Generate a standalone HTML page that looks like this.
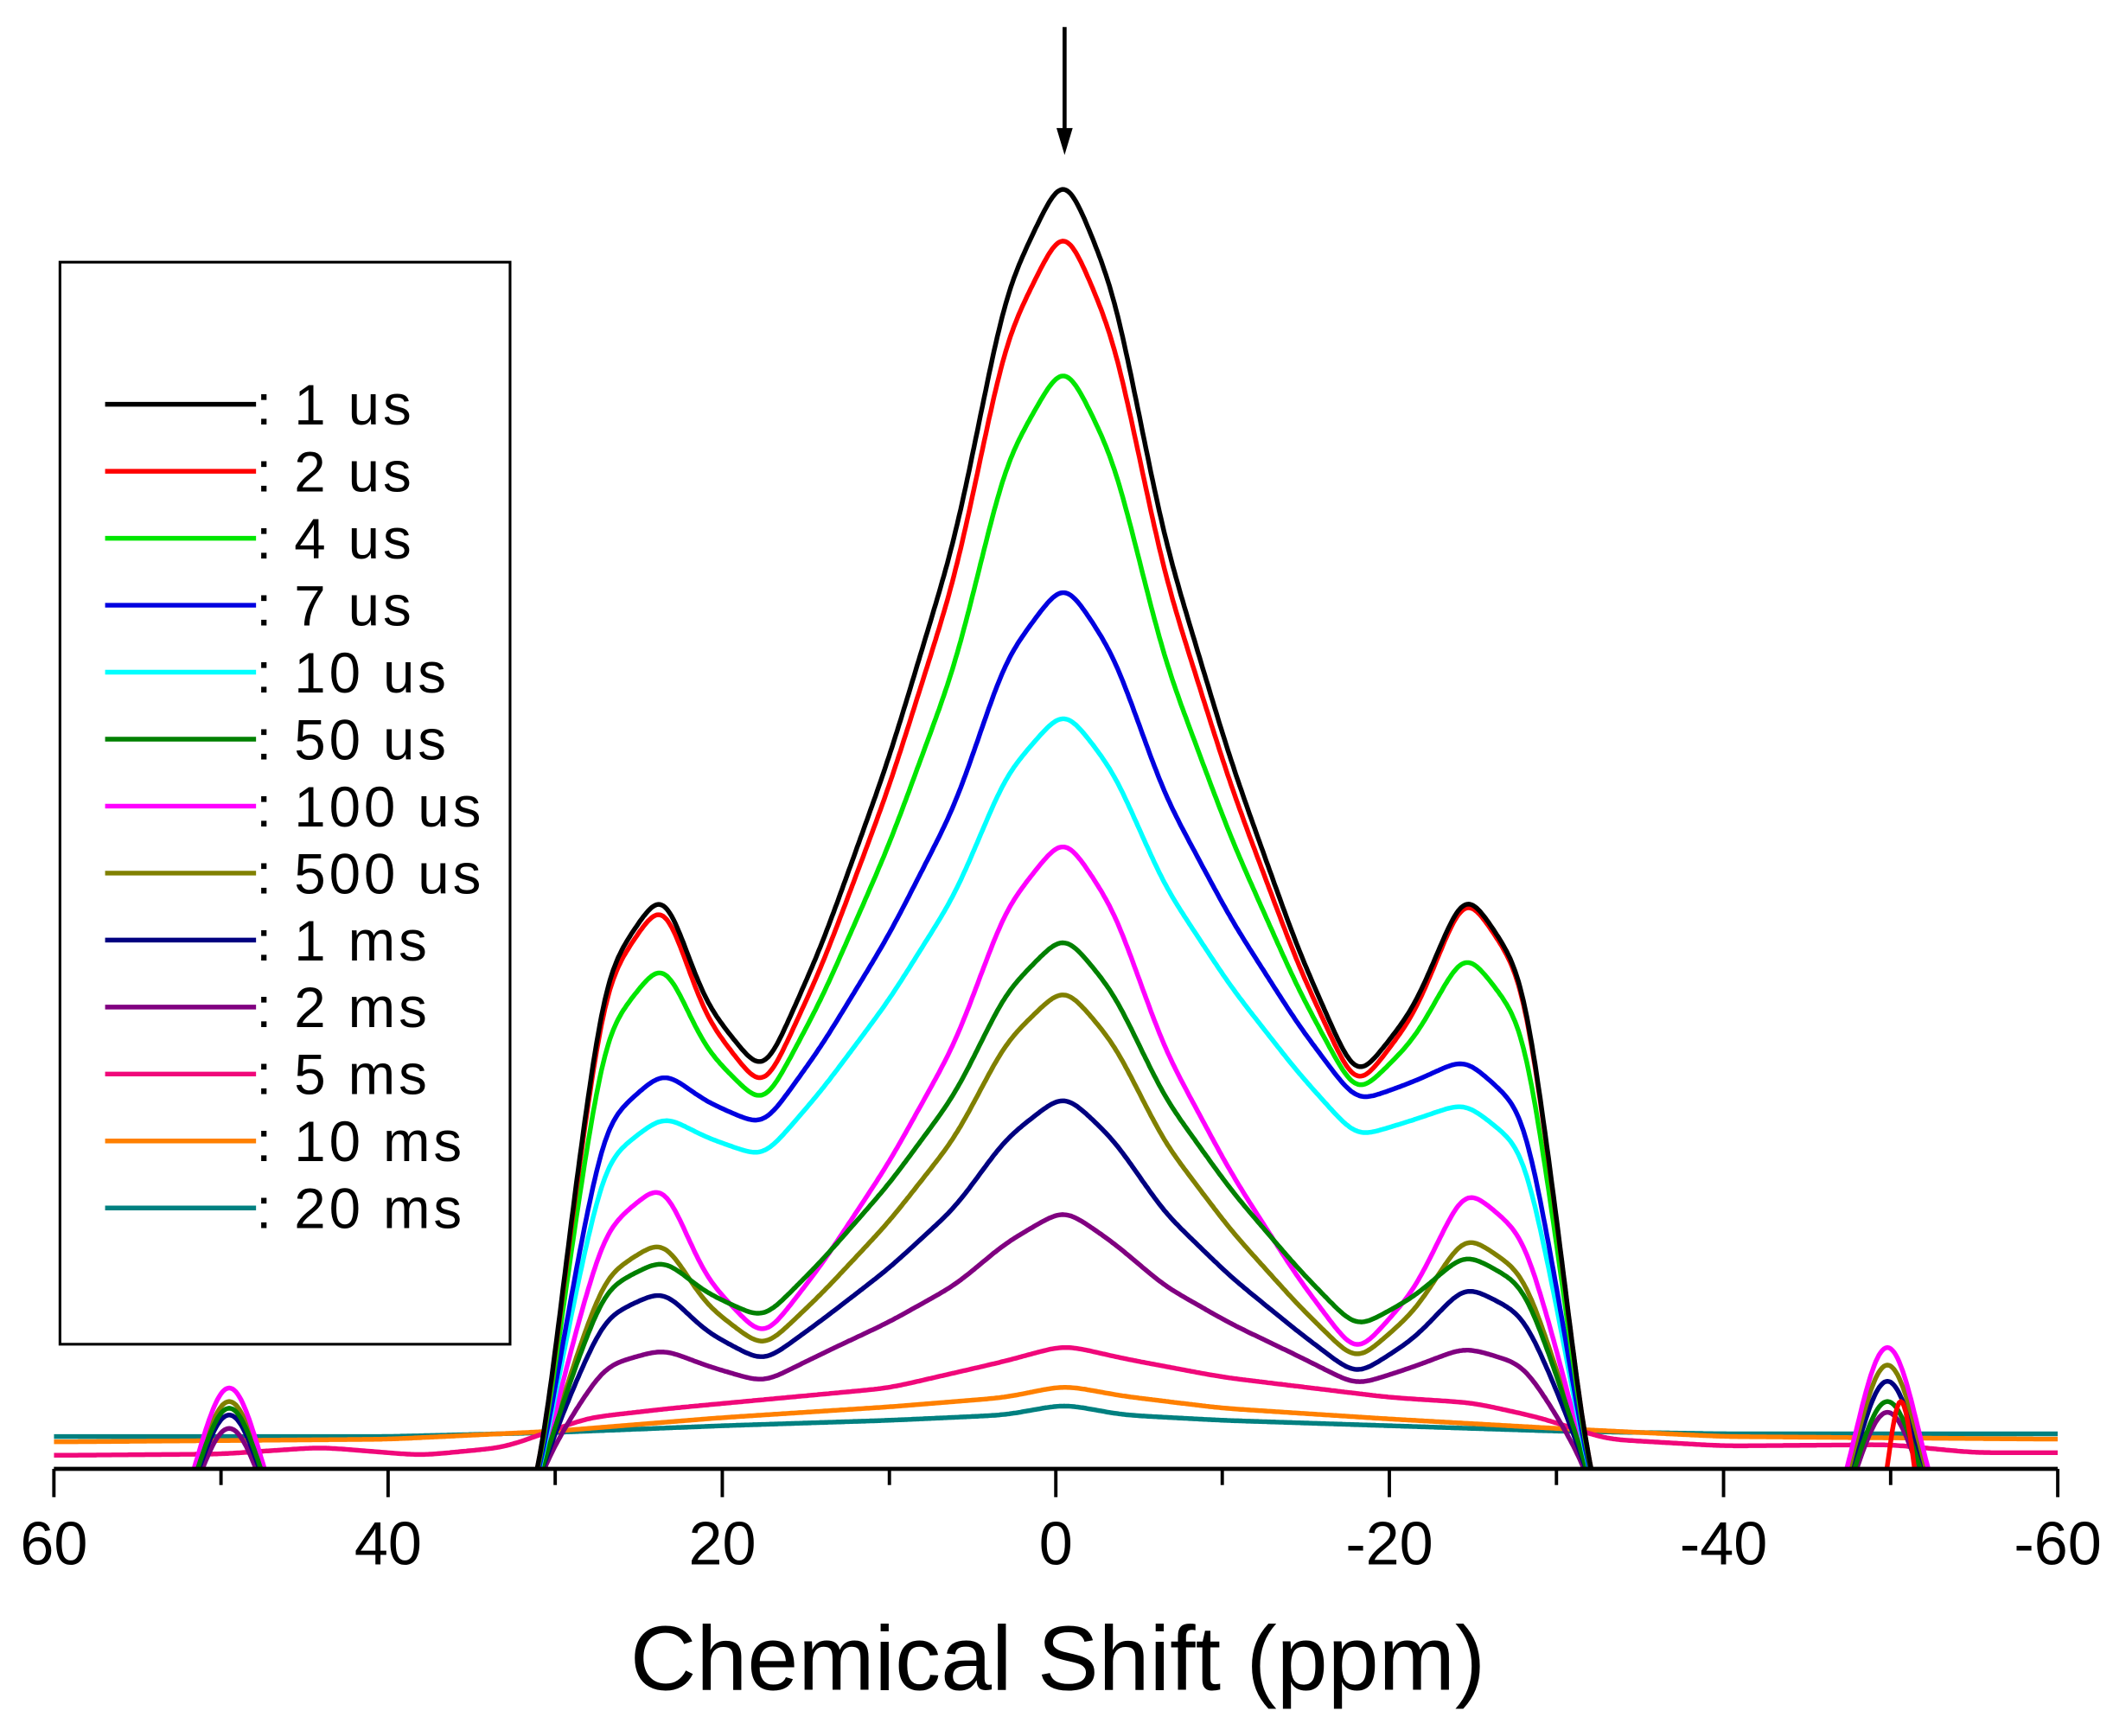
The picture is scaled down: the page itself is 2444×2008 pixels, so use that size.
<!DOCTYPE html>
<html><head><meta charset="utf-8"><style>
html,body{margin:0;padding:0;background:#fff;}
svg{display:block;}
text{font-family:"Liberation Sans",Arial,sans-serif;fill:#000;}
</style></head><body>
<svg id="s" width="2444" height="2008" viewBox="0 0 1568 1288.2" xmlns="http://www.w3.org/2000/svg">
<defs><clipPath id="c"><rect x="40" y="0" width="1487" height="1089"/></clipPath></defs>
<g id="curves" clip-path="url(#c)" fill="none" stroke-width="3.5" stroke-linejoin="round"></g>
<line x1="40" y1="1090" x2="1527" y2="1090" stroke="#000" stroke-width="3"/>
<g stroke="#000" stroke-width="2.5">
<line x1="40" y1="1090" x2="40" y2="1111"/><line x1="288" y1="1090" x2="288" y2="1111"/><line x1="536" y1="1090" x2="536" y2="1111"/><line x1="783.5" y1="1090" x2="783.5" y2="1111"/><line x1="1031" y1="1090" x2="1031" y2="1111"/><line x1="1279" y1="1090" x2="1279" y2="1111"/><line x1="1527" y1="1090" x2="1527" y2="1111"/>
<line x1="164" y1="1090" x2="164" y2="1102"/><line x1="412" y1="1090" x2="412" y2="1102"/><line x1="660" y1="1090" x2="660" y2="1102"/><line x1="907" y1="1090" x2="907" y2="1102"/><line x1="1155" y1="1090" x2="1155" y2="1102"/><line x1="1403" y1="1090" x2="1403" y2="1102"/>
</g>
<g font-size="45" text-anchor="middle">
<text x="40" y="1161">60</text><text x="288" y="1161">40</text><text x="536" y="1161">20</text><text x="783.5" y="1161">0</text><text x="1031" y="1161">-20</text><text x="1279" y="1161">-40</text><text x="1527" y="1161">-60</text>
</g>
<text x="785" y="1254" font-size="68" text-anchor="middle">Chemical Shift (ppm)</text>
<line x1="790" y1="20" x2="790" y2="100" stroke="#000" stroke-width="3"/>
<polygon points="784,95 796,95 790,115" fill="#000"/>
<rect x="44.5" y="194.5" width="334" height="803" fill="none" stroke="#000" stroke-width="2"/>
<g id="leg"></g>
</svg>
<script>
var NS="http://www.w3.org/2000/svg";
function X(p){return 783.5-p*12.392;}
var C=[
["#000000","1 us",137,672,673,793,797],
["#ff0000","2 us",176,680,676,805,804],
["#00e600","4 us",278,722,715,816,808],
["#0000e0","7 us",442,798,788,830,812],
["#00ffff","10 us",537,830,820,853,838],
["#008000","50 us",704,938,935,973,980],
["#ff00ff","100 us",631,888,893,988,1000],
["#808000","500 us",743,927,925,995,1005],
["#000080","1 ms",823,962,960,1005,1015],
["#800080","2 ms",909,1003,1002,1020,1022],
["#f0087a","5 ms"],["#ff8000","10 ms"],["#008080","20 ms"]];
var SB={"#008000":[1045,1040],"#ff00ff":[1030,1000],"#808000":[1040,1013],"#000080":[1050,1025],"#800080":[1060,1048]};
function lin(pts,p){
 if(p>=pts[0][0])return pts[0][1];
 for(var i=0;i<pts.length-1;i++){var a=pts[i],b=pts[i+1];
  if(p<=a[0]&&p>=b[0]){var t=(a[0]-p)/(a[0]-b[0]);return a[1]+(b[1]-a[1])*t;}}
 return pts[pts.length-1][1];}
function g(p,c,s){return Math.exp(-(p-c)*(p-c)/(2*s*s));}
function smooth(ys,sig){var n=ys.length,out=[],r=Math.ceil(sig*3);
 for(var i=0;i<n;i++){var s=0,w=0;for(var k=-r;k<=r;k++){var j=i+k;if(j<0||j>=n)continue;var ww=Math.exp(-k*k/(2*sig*sig));s+=ys[j]*ww;w+=ww;}out.push(s/w);}return out;}
var G=document.getElementById("curves"),paths=[];
var step=0.1,N=1201;
C.forEach(function(c,idx){
 var pts,col=c[0],ys=[],sig;
 if(c.length>2){
  var M=c[2],SL=c[3],SR=c[4],VL=c[5],VR=c[6];
  pts=[[60,1160],[32.5,1160],[30.8,1090],[29,SL+(1090-SL)*0.55],[27,SL+(1090-SL)*0.12],[23.5,SL-(VL-SL)*0.12],[21,SL+(VL-SL)*0.6],[17.5,VL+6],[14,M+(VL-M)*0.86],[10,M+(VL-M)*0.65],[6,M+(VL-M)*0.4],[3,M+(VL-M)*0.12],[-0.5,M-12],[-3.5,M+(VR-M)*0.12],[-6.5,M+(VR-M)*0.4],[-10.5,M+(VR-M)*0.65],[-14.5,M+(VR-M)*0.86],[-18,VR+6],[-21.5,SR+(VR-SR)*0.6],[-24.5,SR-(VR-SR)*0.12],[-28,SR+(1090-SR)*0.12],[-30,SR+(1090-SR)*0.55],[-31.8,1090],[-33.5,1160],[-60,1160]];
  sig=7;
 } else {
  if(col=="#f0087a")pts=[[60,1080],[50,1079],[44,1074],[38,1080],[33,1074],[28,1052],[23,1045],[10,1030],[3,1010],[-0.5,998],[-4,1008],[-10,1022],[-20,1037],[-25,1041],[-29,1052],[-33,1068],[-40,1073],[-50,1072],[-55,1078],[-60,1078]];
  else if(col=="#ff8000")pts=[[60,1070],[40,1068],[30,1062],[20,1052],[10,1044],[3,1037],[-0.5,1028],[-4,1036],[-10,1045],[-20,1053],[-30,1060],[-40,1066],[-60,1068]];
  else pts=[[60,1066],[40,1066],[30,1063],[20,1058],[10,1054],[3,1050],[-0.5,1042],[-4,1050],[-10,1054],[-20,1058],[-30,1062],[-40,1064],[-60,1064]];
  sig=8;
 }
 for(var i=0;i<N;i++){var p=60-i*step;ys.push(lin(pts,p));}
 ys=smooth(ys,sig);
 var d="";
 for(var i=0;i<N;i++){var p=60-i*step,y=ys[i];
  if(c.length>2&&Math.abs(p)>34){var sb=SB[col];y=1160;
   if(sb){y=1160-(1160-sb[0])*g(p,49.5,1.9)-(1160-sb[1])*g(p,-49.8,1.9);}
   if(col=="#ff0000"){y=Math.min(y,1160-120*g(p,-50.6,0.8));}
  }
  d+=(d?"L":"M")+X(p).toFixed(1)+","+y.toFixed(1);}
 var e=document.createElementNS(NS,"path");e.setAttribute("d",d);e.setAttribute("stroke",col);paths.push(e);
 var ly=300+idx*49.7,L=document.getElementById("leg");
 var l=document.createElementNS(NS,"line");l.setAttribute("x1",78);l.setAttribute("x2",190);l.setAttribute("y1",ly);l.setAttribute("y2",ly);l.setAttribute("stroke",col);l.setAttribute("stroke-width",3.5);L.appendChild(l);
 var t=document.createElementNS(NS,"text");t.setAttribute("x",190);t.setAttribute("y",ly+15);t.setAttribute("font-size",42);t.setAttribute("letter-spacing","2.5");t.textContent=": "+c[1];L.appendChild(t);
});
for(var i=paths.length-1;i>=0;i--)G.appendChild(paths[i]);
</script>
</body></html>
